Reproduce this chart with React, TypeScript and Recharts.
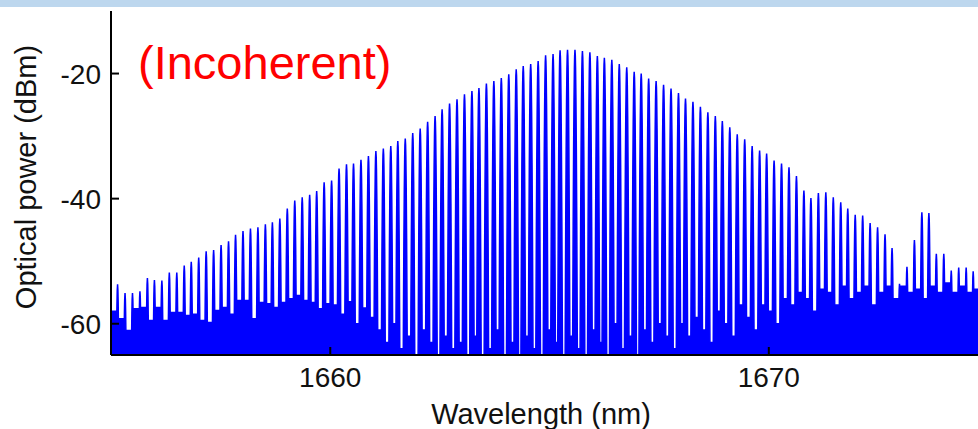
import { Area, AreaChart, XAxis, YAxis } from "recharts";

// comb line positions (nm)
const wavelengths = [
  1655.15, 1655.32, 1655.49, 1655.66, 1655.83, 1655.99, 1656.16, 1656.33, 1656.5, 1656.67,
  1656.83, 1657.0, 1657.17, 1657.34, 1657.51, 1657.68, 1657.84, 1658.01, 1658.18, 1658.35,
  1658.52, 1658.68, 1658.85, 1659.02, 1659.19, 1659.36, 1659.53, 1659.69, 1659.86, 1660.03,
  1660.2, 1660.37, 1660.53, 1660.7, 1660.87, 1661.04, 1661.21, 1661.38, 1661.54, 1661.71,
  1661.88, 1662.05, 1662.22, 1662.39, 1662.55, 1662.72, 1662.89, 1663.06, 1663.23, 1663.39,
  1663.56, 1663.73, 1663.9, 1664.07, 1664.24, 1664.4, 1664.57, 1664.74, 1664.91, 1665.08,
  1665.24, 1665.41, 1665.58, 1665.75, 1665.92, 1666.09, 1666.25, 1666.42, 1666.59, 1666.76,
  1666.93, 1667.09, 1667.26, 1667.43, 1667.6, 1667.77, 1667.94, 1668.1, 1668.27, 1668.44,
  1668.61, 1668.78, 1668.94, 1669.11, 1669.28, 1669.45, 1669.62, 1669.79, 1669.95, 1670.12,
  1670.29, 1670.46, 1670.63, 1670.8, 1670.96, 1671.13, 1671.3, 1671.47, 1671.64, 1671.8,
  1671.97, 1672.14, 1672.31, 1672.48, 1672.65, 1672.81, 1672.98, 1673.15, 1673.32, 1673.49,
  1673.65, 1673.82, 1673.99, 1674.16, 1674.33, 1674.5, 1674.66,
];

// peak power of each comb line (dBm)
const peakPower = [
  -53.7, -55.1, -55.1, -54.8, -52.7, -53.0, -53.1, -51.8, -51.8, -50.7,
  -50.1, -49.4, -48.4, -48.2, -47.4, -46.8, -45.8, -45.2, -44.8, -44.6,
  -44.1, -43.8, -43.2, -41.6, -40.3, -39.8, -39.4, -38.8, -37.4, -37.1,
  -35.2, -34.5, -34.4, -33.8, -33.2, -32.4, -32.0, -31.6, -30.8, -30.4,
  -29.5, -28.8, -27.7, -26.8, -25.7, -24.8, -24.1, -23.3, -22.8, -22.3,
  -21.6, -21.2, -20.7, -20.1, -19.3, -18.8, -18.5, -18.0, -17.1, -16.9,
  -16.3, -16.2, -16.2, -16.4, -16.6, -17.2, -17.5, -17.8, -18.5, -19.0,
  -19.7, -20.0, -20.8, -21.2, -21.8, -22.4, -23.1, -24.0, -24.5, -25.3,
  -26.2, -26.8, -27.6, -28.6, -29.7, -30.5, -31.6, -32.3, -32.8, -33.9,
  -34.4, -35.0, -36.4, -38.7, -39.9, -39.1, -39.0, -39.8, -40.6, -41.6,
  -42.6, -42.7, -43.9, -44.6, -45.7, -47.9, -53.6, -50.9, -46.6, -42.2,
  -42.3, -48.8, -48.8, -51.5, -51.0, -51.0, -51.6,
];

// noise floor: left edge, every gap between lines, right edge (dBm)
const floorPower = [
  -58, -59.2, -61.1, -57.6, -57.4, -59.5, -57.4, -59.5, -58.2, -58.2,
  -58.7, -58.5, -59.5, -59.8, -57.9, -57.4, -58.5, -56.3, -56.3, -59.2,
  -56.6, -56.8, -57.4, -56.6, -56.0, -55.5, -56.3, -56.6, -57.6, -56.8,
  -57, -58.5, -56.5, -60, -57.5, -59,
  -61, -63, -60, -64, -62, -65, -61, -63, -66, -62, -64,
  -63, -65, -62, -66, -64, -61, -65, -63, -66, -62, -64, -65, -61, -63, -66,
  -62, -64, -66, -61, -63, -65, -60, -64, -62, -65, -61, -63, -60, -62, -64,
  -60, -62, -59, -61, -63, -58, -60, -62, -57, -59, -61, -57, -58, -60, -56,
  -57, -55, -56, -58, -54.5, -55, -57, -54, -56, -55, -54, -57, -55, -54, -56,
  -54, -55, -54.5, -56, -54, -55, -53.5, -55, -54, -55,
  -54.5,
];

const xTicks = [1660, 1670];
const yTicks = [-60, -40, -20];
const X_DOMAIN: [number, number] = [1655, 1674.77];
const Y_DOMAIN: [number, number] = [-65, -10];

// OSA lineshape: half-width grows with sqrt of depth below the peak (dB)
const SKIRT_NM = 0.0078;
const SKIRT_LEVELS = [1, 3, 8, 16, 28, 45];

type Row = { w: number; p: number };

const halfWidth = (depth: number) => SKIRT_NM * Math.sqrt(Math.max(depth, 0));

const rows: Row[] = [{ w: X_DOMAIN[0], p: floorPower[0] }];
wavelengths.forEach((w, i) => {
  const peak = peakPower[i];
  const left = floorPower[i];
  const right = floorPower[i + 1];
  const dl = peak - left;
  const dr = peak - right;
  rows.push({ w: w - halfWidth(dl), p: left });
  SKIRT_LEVELS.filter((d) => d < dl)
    .reverse()
    .forEach((d) => rows.push({ w: w - halfWidth(d), p: peak - d }));
  rows.push({ w, p: peak });
  SKIRT_LEVELS.filter((d) => d < dr).forEach((d) =>
    rows.push({ w: w + halfWidth(d), p: peak - d }),
  );
  rows.push({ w: w + halfWidth(dr), p: right });
});
rows.push({ w: X_DOMAIN[1], p: floorPower[floorPower.length - 1] });

const FONT = '"Liberation Sans", Arial, sans-serif';
const BLUE = "#0000ff";

function BottomTick(props: any) {
  const { x, y, payload } = props;
  return (
    <g>
      <line x1={x} x2={x} y1={y} y2={y - 8} stroke="#000" strokeWidth={2} />
      <text x={x} y={y + 32} textAnchor="middle" fontSize={28} fontFamily={FONT} fill="#111">
        {payload.value}
      </text>
    </g>
  );
}

function TopTick(props: any) {
  const { x, y } = props;
  return <line x1={x} x2={x} y1={y} y2={y + 8} stroke="#000" strokeWidth={2} />;
}

function LeftTick(props: any) {
  const { x, y, payload } = props;
  return (
    <g>
      <line x1={x} x2={x + 8} y1={y} y2={y} stroke="#000" strokeWidth={2} />
      <text x={x - 10} y={y + 10} textAnchor="end" fontSize={28} fontFamily={FONT} fill="#111">
        {payload.value}
      </text>
    </g>
  );
}

export default function App() {
  return (
    <div style={{ position: "absolute", left: 0, top: 0, width: 978, height: 429, background: "#fff" }}>
      <div style={{ position: "absolute", left: 0, top: 0, width: 978, height: 7, background: "#bdd7ee" }} />
      <AreaChart
        width={978}
        height={429}
        data={rows}
        margin={{ top: 11, right: 0, bottom: 0, left: 0 }}
      >
        <XAxis
          dataKey="w"
          type="number"
          domain={X_DOMAIN}
          allowDataOverflow
          ticks={xTicks}
          interval={0}
          height={74}
          tickSize={0}
          tickMargin={0}
          tickLine={false}
          axisLine={{ stroke: "#000", strokeWidth: 2 }}
          tick={<BottomTick />}
        />
        <XAxis
          xAxisId="top"
          orientation="top"
          dataKey="w"
          type="number"
          domain={X_DOMAIN}
          allowDataOverflow
          ticks={xTicks}
          interval={0}
          height={0}
          tickSize={0}
          tickMargin={0}
          tickLine={false}
          axisLine={{ stroke: "#000", strokeWidth: 2 }}
          tick={<TopTick />}
        />
        <YAxis
          type="number"
          domain={Y_DOMAIN}
          allowDataOverflow
          ticks={yTicks}
          interval={0}
          width={111}
          tickSize={0}
          tickMargin={0}
          tickLine={false}
          axisLine={{ stroke: "#000", strokeWidth: 2 }}
          tick={<LeftTick />}
        />
        <Area
          type="linear"
          dataKey="p"
          baseValue="dataMin"
          stroke={BLUE}
          strokeWidth={1.5}
          fill={BLUE}
          fillOpacity={1}
          dot={false}
          activeDot={false}
          isAnimationActive={false}
        />
        <text x={138} y={79} fontSize={47} fontFamily={FONT} fill="#ff0000">
          (Incoherent)
        </text>
        <text x={541} y={424} textAnchor="middle" fontSize={29} fontFamily={FONT} fill="#111">
          Wavelength (nm)
        </text>
        <text
          transform="translate(36,177) rotate(-90)"
          textAnchor="middle"
          fontSize={29}
          fontFamily={FONT}
          fill="#111"
        >
          Optical power (dBm)
        </text>
      </AreaChart>
    </div>
  );
}
